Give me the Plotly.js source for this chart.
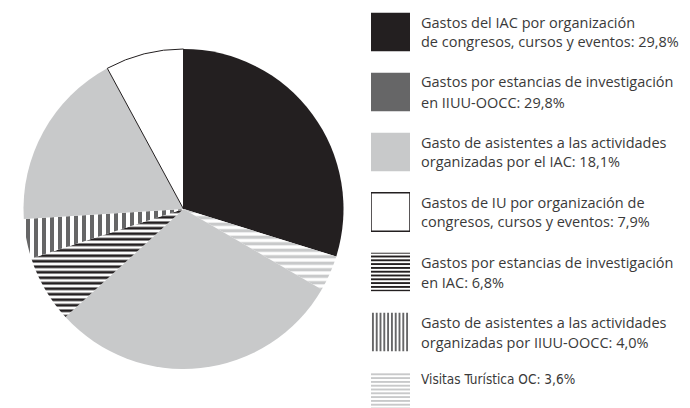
<!DOCTYPE html>
<html>
<head>
<meta charset="utf-8">
<script src="https://cdn.plot.ly/plotly-3.0.1.min.js"></script>
<style>
  html, body { margin: 0; padding: 0; background: #ffffff; }
  #chart { width: 690px; height: 408px; }
</style>
</head>
<body>
<div id="chart"></div>
<script>
// ---- data (legend order) ----
const categories = [
  "Gastos del IAC por organización de congresos, cursos y eventos",
  "Gastos por estancias de investigación en IIUU-OOCC",
  "Gasto de asistentes a las actividades organizadas por el IAC",
  "Gastos de IU por organización de congresos, cursos y eventos",
  "Gastos por estancias de investigación en IAC",
  "Gasto de asistentes a las actividades organizadas por IIUU-OOCC",
  "Visitas Turística OC"
];
const shares = [29.8, 29.8, 18.1, 7.9, 6.8, 4.0, 3.6];
const legendLine1 = [
  "Gastos del IAC por organización",
  "Gastos por estancias de investigación",
  "Gasto de asistentes a las actividades",
  "Gastos de IU por organización de",
  "Gastos por estancias de investigación",
  "Gasto de asistentes a las actividades",
  "Visitas Turística OC:"
];
const legendLine2 = [
  "de congresos, cursos y eventos:",
  "en IIUU-OOCC:",
  "organizadas por el IAC:",
  "congresos, cursos y eventos:",
  "en IAC:",
  "organizadas por IIUU-OOCC:",
  ""
];
// order of slices around the pie, clockwise from 12 o'clock (indices into categories)
const pieOrder = [0, 6, 1, 4, 5, 2, 3];

// ---- styles ----
const BLACK = "#231f20", DARK = "#666667", LIGHT = "#c8c9ca", WHITE = "#ffffff";
const sliceColor   = [BLACK, LIGHT, LIGHT, WHITE, WHITE, WHITE, WHITE];
const swatchColor  = [BLACK, DARK,  LIGHT, WHITE, WHITE, WHITE, WHITE];
const patShape     = ["", "", "", "", "-", "|", "-"];
const patFg        = [BLACK, DARK, LIGHT, WHITE, BLACK, DARK, LIGHT];
const pieSize      = [6, 6, 6, 6, 5.5, 8, 6.5];
const lineW        = [0, 0, 0, 1, 0, 0, 0];

const fmt = v => v.toFixed(1).replace(".", ",") + "%";

const pie = {
  type: "pie",
  labels: pieOrder.map(i => categories[i]),
  values: pieOrder.map(i => shares[i]),
  sort: false,
  direction: "clockwise",
  rotation: 0,
  textinfo: "none",
  hoverinfo: "none",
  showlegend: false,
  domain: { x: [23/690, 344/690], y: [1 - 369/408, 1 - 49/408] },
  marker: {
    colors: pieOrder.map(i => sliceColor[i]),
    pattern: {
      shape: pieOrder.map(i => patShape[i]),
      fgcolor: pieOrder.map(i => patFg[i]),
      bgcolor: pieOrder.map(i => WHITE),
      size: pieOrder.map(i => pieSize[i]),
      solidity: 0.5,
      fillmode: "replace"
    },
    line: { color: pieOrder.map(i => "#231f20"), width: pieOrder.map(i => lineW[i]) }
  }
};

// legend swatches: one bar trace per category, on a hidden category axis
const swatchTraces = categories.map((c, i) => {
  const marker = {
    color: swatchColor[i],
    line: { color: "#231f20", width: lineW[i] * 1.5 }
  };
  if (patShape[i]) {
    marker.pattern = { shape: patShape[i], fgcolor: patFg[i], bgcolor: WHITE,
                       size: 3.8, solidity: 0.5, fillmode: "replace" };
  }
  return {
    type: "bar", orientation: "h",
    y: [c], x: [1], width: 0.64,
    hoverinfo: "none", showlegend: false,
    marker: marker
  };
});

const annotations = [];
const FONT = "'Open Sans', Roboto, sans-serif";
const TXT = "#3a3a3a";
categories.forEach((c, i) => {
  const center = 32 + 60 * i;
  const l2 = legendLine2[i];
  if (l2) {
    annotations.push({ xref: "paper", yref: "paper", x: 419/690, y: 1 - (center - 10)/408,
      xanchor: "left", yanchor: "middle", showarrow: false, text: legendLine1[i],
      font: { family: FONT, size: 14.5, color: TXT } });
    annotations.push({ xref: "paper", yref: "paper", x: 419/690, y: 1 - (center + 10)/408,
      xanchor: "left", yanchor: "middle", showarrow: false, text: l2 + " " + fmt(shares[i]),
      font: { family: FONT, size: 14.5, color: TXT } });
  } else {
    annotations.push({ xref: "paper", yref: "paper", x: 419/690, y: 1 - (center - 13)/408,
      xanchor: "left", yanchor: "middle", showarrow: false, text: legendLine1[i] + " " + fmt(shares[i]),
      font: { family: "'Liberation Sans Narrow', 'DejaVu Sans Condensed', sans-serif", size: 13.5, color: TXT } });
  }
});

const layout = {
  width: 690, height: 408,
  margin: { l: 0, r: 0, t: 0, b: 0 },
  paper_bgcolor: "#ffffff", plot_bgcolor: "rgba(0,0,0,0)",
  showlegend: false,
  barmode: "overlay",
  xaxis: { domain: [371/690, 410/690], range: [0, 1], visible: false, fixedrange: true },
  yaxis: { domain: [0, 1], type: "category", categoryarray: categories, categoryorder: "array",
           range: [(408 - 32)/60, -32/60], visible: false, fixedrange: true },
  annotations: annotations
};

Plotly.newPlot("chart", [pie].concat(swatchTraces), layout, { staticPlot: true, displayModeBar: false });
</script>
</body>
</html>
